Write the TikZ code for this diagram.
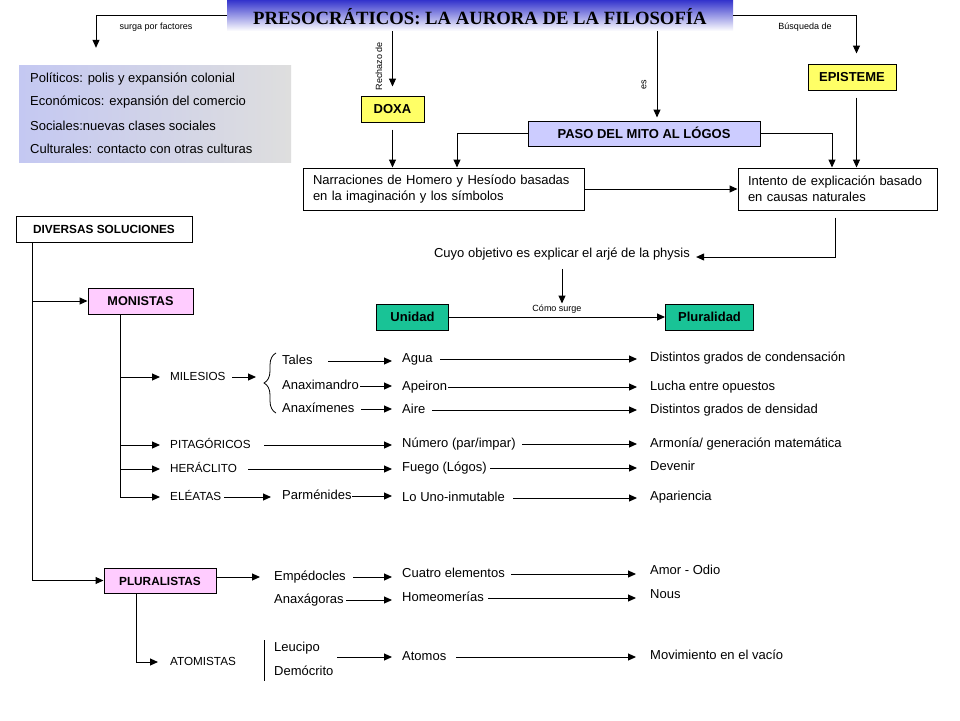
\documentclass[tikz,border=0pt]{standalone}
\usepackage{fontspec}
\setmainfont{Liberation Sans}
\newfontfamily\titlefont{Liberation Serif}
\usetikzlibrary{arrows.meta,decorations.pathreplacing}
\definecolor{yel}{RGB}{255,255,102}
\definecolor{lavb}{RGB}{204,204,255}
\definecolor{pnk}{RGB}{255,204,255}
\definecolor{grn}{RGB}{25,195,150}
\definecolor{lav}{RGB}{196,200,242}
\definecolor{gry}{RGB}{222,222,222}
\definecolor{bann}{RGB}{51,51,204}
\definecolor{bannm}{RGB}{170,170,232}
\begin{document}
\begin{tikzpicture}[x=1pt,y=-1pt,
 arr/.style={draw, line width=1pt, -{Triangle[length=8pt,width=7pt]}},
 ln/.style={draw, line width=1pt},
 txt/.style={anchor=west, inner sep=0pt, text height=9pt, text depth=2.5pt, font=\fontsize{13}{15}\selectfont},
 cat/.style={txt, font=\fontsize{11.7}{14}\selectfont},
 lbl/.style={inner sep=0pt, font=\fontsize{9}{10}\selectfont},
 box/.style={draw, line width=1pt, inner sep=0pt, text height=9.4pt, text depth=0pt, font=\bfseries\fontsize{13}{15}\selectfont},
 tbox/.style={draw, line width=1pt, fill=white, align=left, inner xsep=10pt, inner ysep=0pt, minimum height=42pt, font=\fontsize{13}{16}\selectfont},
]
\useasboundingbox (0,0) rectangle (960,720);
\fill[white] (0,0) rectangle (960,720);

% title banner
\node[minimum width=506pt, minimum height=31pt, inner sep=0pt, top color=bann, middle color=bannm, bottom color=white, text height=17pt, text depth=0pt, font=\titlefont\bfseries\fontsize{18.7}{20}\selectfont] (title) at (480,15.5) {PRESOCRÁTICOS: LA AURORA DE LA FILOSOFÍA};

% factors box
\node[minimum width=272pt, minimum height=97pt, inner sep=0pt, left color=lav, right color=gry] (fac) at (155,113.5) {};
\node[txt] (f1) at (30,79) {Políticos: polis y expansión colonial};
\node[txt] (f2) at (30,102) {Económicos: expansión del comercio};
\node[txt] (f3) at (30,127) {Sociales:nuevas clases sociales};
\node[txt] (f4) at (30,150) {Culturales: contacto con otras culturas};

% upper boxes
\node[box, fill=yel, minimum width=63pt, minimum height=26pt] (doxa) at (392.5,109) {DOXA};
\node[box, fill=yel, minimum width=88pt, minimum height=26pt] (epi) at (852,77) {EPISTEME};
\node[box, fill=lavb, minimum width=232pt, minimum height=25pt] (paso) at (644,133.5) {PASO DEL MITO AL LÓGOS};
\node[tbox, text width=261pt] (narr) at (443.5,189) {Narraciones de Homero y Hesíodo basadas\\en la imaginación y los símbolos};
\node[tbox, text width=179pt] (int) at (837.5,189) {Intento de explicación basado\\en causas naturales};
\node[txt, anchor=center] (cuyo) at (562,254) {Cuyo objetivo es explicar el arjé de la physis};
\node[box, fill=grn, minimum width=72pt, minimum height=26pt] (unidad) at (412.5,317) {Unidad};
\node[box, fill=grn, minimum width=88pt, minimum height=26pt] (plural) at (709.5,317) {Pluralidad};

% labels
\node[lbl] (lf) at (156,27) {surga por factores};
\node[lbl] (lb) at (805,27) {Búsqueda de};
\node[lbl, rotate=90] (lr) at (379,66) {Rechazo de};
\node[lbl, rotate=90] (les) at (644,85) {es};

% upper connectors
\draw[arr, shorten >=17pt] (title.west) -| ([xshift=-59pt]fac.north);
\draw[arr, shorten >=9pt] (title.south -| doxa.north) -- (doxa.north);
\draw[arr, shorten <=7pt] (doxa.south) -- (doxa.south |- narr.north);
\coordinate (esx) at ([xshift=13pt]paso.north);
\draw[arr, shorten >=3pt] (title.south -| esx) -- (esx);
\draw[arr] (paso.west) -| ([xshift=13.5pt]narr.north);
\draw[arr] (paso.east) -| ([xshift=-5.5pt]int.north);
\draw[arr, shorten >=10pt] (title.east) -| ([xshift=4.5pt]epi.north);
\coordinate (epx) at ([xshift=4.5pt]epi.south);
\draw[arr, shorten <=7pt] (epx) -- (epx |- int.north);
\draw[arr] (narr.east) -- (int.west);
\coordinate (ix) at ([xshift=-2.5pt]int.south);
\draw[arr, shorten <=7pt, shorten >=6pt] (ix) |- ([yshift=-3pt]cuyo.east);
\draw[arr, shorten <=9pt] (cuyo.south) -- (cuyo.south |- unidad.north);
\draw[arr] (unidad.east) -- node[lbl, above=3pt] (como) {Cómo surge} (plural.west);

% left structure
\node[box, fill=white, minimum width=176pt, minimum height=26pt, font=\bfseries\fontsize{11.8}{14}\selectfont] (div) at (104,229) {DIVERSAS SOLUCIONES};
\node[box, fill=pnk, minimum width=105pt, minimum height=26pt, font=\bfseries\fontsize{12.7}{15}\selectfont] (mon) at (140.5,301) {MONISTAS};
\node[box, fill=pnk, minimum width=112pt, minimum height=25pt, font=\bfseries\fontsize{11.8}{14}\selectfont] (plur) at (160,580.5) {PLURALISTAS};
\coordinate (dL) at ([xshift=-72pt]div.south);
\draw[arr] (dL) |- (plur.west);
\draw[arr] (dL |- mon.west) -- (mon.west);

% monistas rows
\node[cat] (mil) at (170,377) {MILESIOS};
\node[cat] (pit) at (170,445) {PITAGÓRICOS};
\node[cat] (her) at (170,469) {HERÁCLITO};
\node[cat] (ele) at (170,497) {ELÉATAS};
\coordinate (mL) at ([xshift=-20pt]mon.south);
\draw[arr, shorten >=10pt] (mL) |- (mil.west);
\draw[arr, shorten >=10pt] (mL) |- (pit.west);
\draw[arr, shorten >=10pt] (mL) |- (her.west);
\draw[arr, shorten >=10pt] (mL) |- (ele.west);

\node[txt] (tales) at (282,361) {Tales};
\node[txt] (anaxm) at (282,386) {Anaximandro};
\node[txt] (anaxs) at (282,409) {Anaxímenes};
\node[txt] (agua) at (402,359) {Agua};
\node[txt] (apei) at (402,387) {Apeiron};
\node[txt] (aire) at (402,410) {Aire};
\node[txt] (cond) at (650,358) {Distintos grados de condensación};
\node[txt] (lucha) at (650,387) {Lucha entre opuestos};
\node[txt] (dens) at (650,410) {Distintos grados de densidad};
\node[txt] (num) at (402,444) {Número (par/impar)};
\node[txt] (armo) at (650,444) {Armonía/ generación matemática};
\node[txt] (fuego) at (402,468) {Fuego (Lógos)};
\node[txt] (dev) at (650,467) {Devenir};
\node[txt] (parm) at (282,496) {Parménides};
\node[txt] (uno) at (402,498) {Lo Uno-inmutable};
\node[txt] (apar) at (650,497) {Apariencia};

\coordinate (brc) at (264,381);
\draw[line width=0.8pt, decorate, decoration={brace, amplitude=12pt}] (276,413) -- (276,353);
\draw[arr, shorten >=8pt] ([xshift=62pt]mil.west) -- (mil.west -| brc);

\draw[arr, shorten >=10pt] ([xshift=46pt]tales.west) -- (tales.west -| agua.west);
\draw[arr, shorten >=13pt] ([xshift=38pt]agua.west) -- (agua.west -| cond.west);
\draw[arr, shorten >=10pt] ([xshift=78pt]anaxm.west) -- (anaxm.west -| apei.west);
\draw[arr, shorten >=13pt] ([xshift=46pt]apei.west) -- (apei.west -| lucha.west);
\draw[arr, shorten >=10pt] ([xshift=79pt]anaxs.west) -- (anaxs.west -| aire.west);
\draw[arr, shorten >=13pt] ([xshift=30pt]aire.west) -- (aire.west -| dens.west);
\draw[arr, shorten >=10pt] ([xshift=94pt]pit.west) -- (pit.west -| num.west);
\draw[arr, shorten >=13pt] ([xshift=120pt]num.west) -- (num.west -| armo.west);
\draw[arr, shorten >=10pt] ([xshift=78pt]her.west) -- (her.west -| fuego.west);
\draw[arr, shorten >=13pt] ([xshift=88pt]fuego.west) -- (fuego.west -| dev.west);
\draw[arr, shorten >=11pt] ([xshift=54pt]ele.west) -- (ele.west -| parm.west);
\draw[arr, shorten >=10pt] ([xshift=70pt]parm.west) -- (parm.west -| uno.west);
\draw[arr, shorten >=13pt] ([xshift=111pt]uno.west) -- (uno.west -| apar.west);

% pluralistas rows
\node[txt] (emp) at (274,577) {Empédocles};
\node[txt] (anxg) at (274,600) {Anaxágoras};
\node[txt] (cuatro) at (402,574) {Cuatro elementos};
\node[txt] (homeo) at (402,598) {Homeomerías};
\node[txt] (amor) at (650,571) {Amor - Odio};
\node[txt] (nous) at (650,595) {Nous};
\node[cat] (atom) at (170,662) {ATOMISTAS};
\node[txt] (leuc) at (274,648) {Leucipo};
\node[txt] (demo) at (274,672) {Demócrito};
\node[txt] (atomos) at (402,657) {Atomos};
\node[txt] (mov) at (650,656) {Movimiento en el vacío};

\draw[arr, shorten >=14pt] (plur.east |- emp.west) -- (emp.west);
\draw[arr, shorten >=10pt] ([xshift=79pt]emp.west) -- (emp.west -| cuatro.west);
\draw[arr, shorten >=14pt] ([xshift=109pt]cuatro.west) -- (cuatro.west -| amor.west);
\draw[arr, shorten >=10pt] ([xshift=72pt]anxg.west) -- (anxg.west -| homeo.west);
\draw[arr, shorten >=14pt] ([xshift=86pt]homeo.west) -- (homeo.west -| nous.west);
\coordinate (pL) at ([xshift=-24pt]plur.south);
\draw[arr, shorten >=12pt] (pL) |- (atom.west);
\draw[ln] ([xshift=-10pt,yshift=8pt]leuc.west) -- ([xshift=-10pt,yshift=-9pt]demo.west);
\draw[arr, shorten >=10pt] ([xshift=-65pt]atomos.west) -- (atomos.west);
\draw[arr, shorten >=14pt] ([xshift=54pt]atomos.west) -- (atomos.west -| mov.west);
\end{tikzpicture}
\end{document}
